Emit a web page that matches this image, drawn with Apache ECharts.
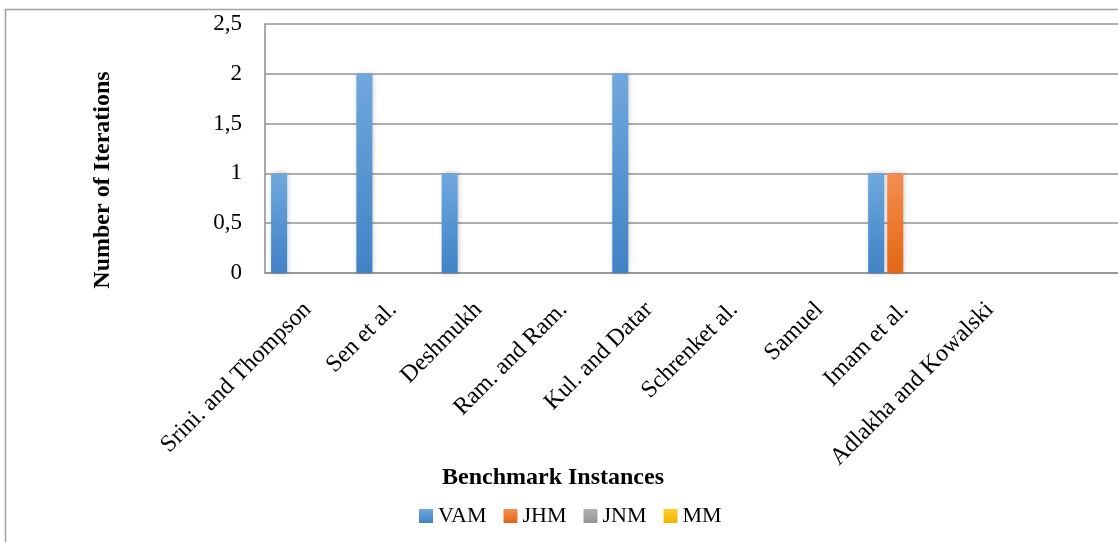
<!DOCTYPE html>
<html>
<head>
<meta charset="utf-8">
<script src="https://cdn.jsdelivr.net/npm/echarts@6/dist/echarts.min.js"></script>
<style>
html,body{margin:0;padding:0;background:#fff;}
#chart{width:1118px;height:542px;}
</style>
</head>
<body>
<div id="chart"></div>
<script>
var categories = ['Srini. and Thompson','Sen et al.','Deshmukh','Ram. and Ram.','Kul. and Datar','Schrenket al.','Samuel','Imam et al.','Adlakha and Kowalski'];
var seriesNames = ['VAM','JHM','JNM','MM'];
var vam = [1, 2, 1, 0, 2, 0, 0, 1, 0];
var jhm = [0, 0, 0, 0, 0, 0, 0, 1, 0];
var jnm = [0, 0, 0, 0, 0, 0, 0, 0, 0];
var mm  = [0, 0, 0, 0, 0, 0, 0, 0, 0];
var yTicks = ['0','0,5','1','1,5','2','2,5'];

var FONT = '"Liberation Serif", "Times New Roman", serif';
function grad(top, bottom){
  return new echarts.graphic.LinearGradient(0,0,0,1,[{offset:0,color:top},{offset:1,color:bottom}]);
}
var colors = [grad('#6ea8dd','#4182c6'), grad('#f28f52','#e36613'), grad('#b0b0b0','#959595'), grad('#ffcb2e','#f2b600')];
var dataSets = [vam, jhm, jnm, mm];

var chart = echarts.init(document.getElementById('chart'));
chart.setOption({
  animation: false,
  grid: {left: 265, top: 24, bottom: 269, right: -7, containLabel: false},
  xAxis: {
    type: 'category', data: categories, max: categories.length,
    axisLine: {show: true, lineStyle: {color: '#939393', width: 1.6}},
    axisTick: {show: false},
    axisLabel: {rotate: 45, margin: 33, color: '#000', fontFamily: FONT, fontSize: 24, interval: 0},
    splitLine: {show: false}
  },
  yAxis: {
    type: 'value', min: 0, max: 2.5, interval: 0.5,
    axisLine: {show: true, lineStyle: {color: '#939393', width: 1.6}},
    axisTick: {show: false},
    axisLabel: {margin: 23, color: '#000', fontFamily: FONT, fontSize: 23,
      formatter: function(v){ return yTicks[Math.round(v/0.5)]; }},
    splitLine: {show: true, lineStyle: {color: '#939393', width: 1.6}}
  },
  legend: {
    data: seriesNames, left: 414, top: 500, icon: 'rect', itemWidth: 14, itemHeight: 14, itemGap: 17,
    textStyle: {fontFamily: FONT, fontSize: 22, color: '#000'}
  },
  graphic: [
    {type: 'rect', z: -10, shape: {x: 5.5, y: 9.5, width: 1300, height: 700}, style: {fill: 'none', stroke: '#a0a0a0', lineWidth: 1.5}},
    {type: 'text', x: 103, y: 180, rotation: Math.PI/2, style: {text: 'Number of Iterations', font: 'bold 24px ' + FONT, fill: '#000', textAlign: 'center', textVerticalAlign: 'middle'}},
    {type: 'text', x: 553, y: 478, style: {text: 'Benchmark Instances', font: 'bold 24px ' + FONT, fill: '#000', textAlign: 'center', textVerticalAlign: 'middle'}}
  ],
  series: seriesNames.map(function(n, i){
    return {
      name: n, type: 'bar', data: dataSets[i], barWidth: 16, barGap: '19%',
      itemStyle: {color: colors[i], shadowBlur: 5, shadowColor: 'rgba(0,0,0,0.25)', shadowOffsetX: 1}
    };
  })
});
</script>
</body>
</html>
